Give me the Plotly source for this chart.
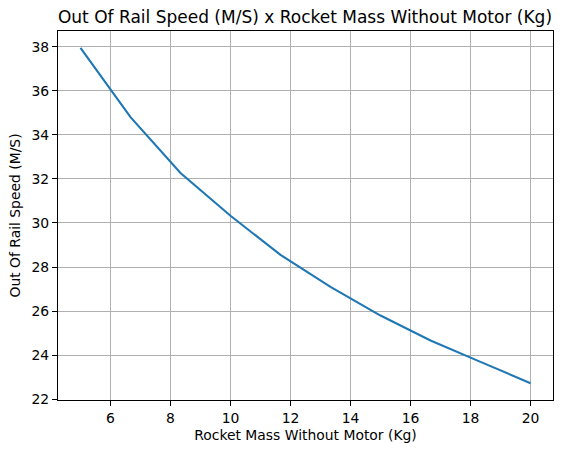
import plotly.graph_objects as go

mass = [5.0, 6.667, 8.333, 10.0, 11.667, 13.333, 15.0, 16.667, 18.333, 20.0]
speed = [37.95, 34.8, 32.27, 30.33, 28.55, 27.1, 25.8, 24.67, 23.7, 22.73]
xticks = [6, 8, 10, 12, 14, 16, 18, 20]
yticks = [22, 24, 26, 28, 30, 32, 34, 36, 38]

def lims(v):
    lo, hi = min(v), max(v)
    m = (hi - lo) * 0.05
    return [lo - m, hi + m]

fig = go.Figure(go.Scatter(x=mass, y=speed, mode="lines",
                           line=dict(color="#1f77b4", width=2.1)))

font = dict(family="DejaVu Sans", size=13.9, color="black")
axis_common = dict(showline=True, linecolor="black", linewidth=1.1, mirror=True,
                   ticks="outside", ticklen=5, tickwidth=1.1, tickcolor="black",
                   showgrid=True, gridcolor="#b0b0b0", gridwidth=1.1,
                   zeroline=False, tickfont=font)

fig.update_layout(
    width=563, height=454,
    margin=dict(l=58, r=10, t=31, b=54),
    paper_bgcolor="white", plot_bgcolor="white",
    showlegend=False,
    font=font,
    title=dict(text="Out Of Rail Speed (M/S) x Rocket Mass Without Motor (Kg)",
               font=dict(family="DejaVu Sans", size=17, color="black"),
               x=305/563, xanchor="center", xref="container",
               y=1-17/454, yanchor="middle", yref="container"),
    xaxis=dict(range=lims(mass), tickvals=xticks,
               title=dict(text="Rocket Mass Without Motor (Kg)", font=font, standoff=5),
               **axis_common),
    yaxis=dict(range=lims(speed), tickvals=yticks,
               title=dict(text="Out Of Rail Speed (M/S)", font=font, standoff=7),
               **axis_common),
)

fig.write_html("out.html")
